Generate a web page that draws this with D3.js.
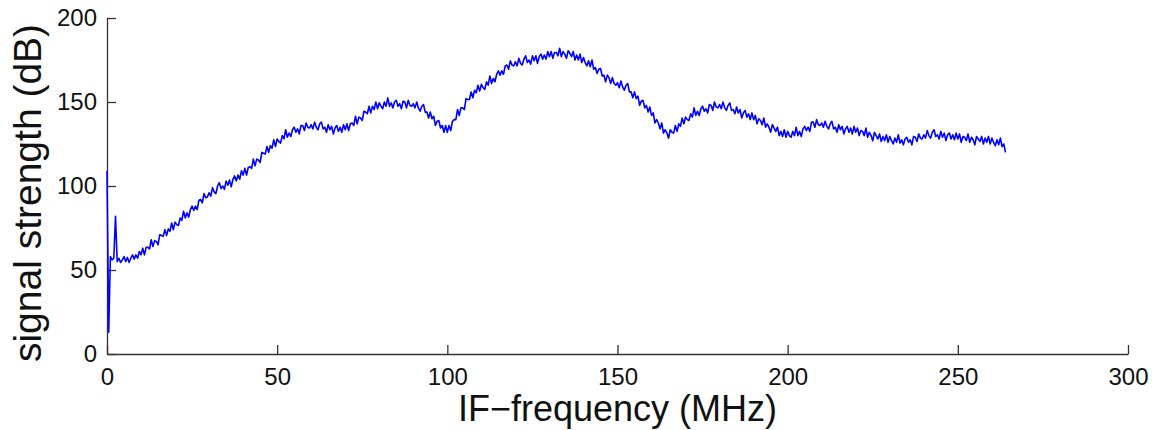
<!DOCTYPE html>
<html>
<head>
<meta charset="utf-8">
<script src="https://cdn.jsdelivr.net/npm/d3@7"></script>
<style>
    body { margin: 0; background: #fff; }
    svg { display: block; font-family: "Liberation Sans", Arial, Helvetica, sans-serif; }
</style>
</head>
<body>
<svg id="spectrum" width="1155" height="430"></svg>
<script>
// Données : un point tous les 0,5 MHz à partir de 0 MHz
const freqStart = 0;
const freqStep = 0.5;
const signalDb = [
    109, 13, 58, 56, 57, 82, 55, 57, 54.5, 56, 58, 55, 57.5, 54.5, 57, 59, 56.5, 59, 57, 61,
    59, 63, 59, 63.5, 63.5, 62.5, 68, 64, 67.5, 67, 65, 71, 70.5, 70, 74, 70.5, 74.5, 73, 78, 74,
    78.5, 77, 76.5, 81, 79.5, 85, 81, 84, 81.5, 86, 88, 85.5, 88, 86, 91.5, 92, 90, 95.5, 93, 93.5,
    96, 94, 99, 96.5, 95.5, 100, 102, 98.5, 100, 98, 103, 100.5, 103.5, 99.5, 104, 106, 103, 106.5, 104, 109,
    106.5, 110.5, 106.5, 111, 111.5, 110.5, 116, 112, 116, 115.5, 114, 120, 119.5, 119, 123.5, 120, 124, 122.5, 127.5, 123.5,
    128, 126.5, 125.5, 130, 128, 133.5, 129, 131.5, 129.5, 133.5, 135, 132, 134, 131, 136, 136, 133, 137.5, 135, 134.5,
    136.5, 134, 138, 135, 133.5, 137, 138, 134, 135, 132, 136.5, 133.5, 135.5, 131, 134.5, 136, 132.5, 135, 132, 136.5,
    133.5, 137, 133, 137, 137.5, 136, 141.5, 137, 141, 140.5, 139, 144.5, 144, 143, 147.5, 143.5, 147.5, 145.5, 150, 146,
    149.5, 147.5, 146, 150, 147.5, 152.5, 147.5, 149.5, 146.5, 150, 151, 147.5, 149, 146, 150.5, 150, 146.5, 151, 148, 147.5,
    149, 146.5, 150, 146.5, 144.5, 147.5, 148.5, 144, 144, 140.5, 144, 140, 141.5, 136, 138.5, 139, 134.5, 136, 132, 136,
    132, 136, 133, 138.5, 139.5, 139.5, 145.5, 142, 146.5, 146.5, 145.5, 152, 151.5, 151.5, 156, 152.5, 157, 155.5, 160, 156.5,
    160.5, 158.5, 157.5, 162, 160, 165.5, 161, 164, 162, 166.5, 168.5, 166, 168.5, 166.5, 171.5, 172, 169.5, 174.5, 172, 171.5,
    174, 171.5, 176, 173, 172, 175.5, 177.5, 173.5, 175, 172.5, 177.5, 174.5, 177.5, 173, 177, 178.5, 175.5, 178, 175.5, 180,
    177, 180, 176, 179.5, 179.5, 177.5, 182, 177, 180, 178.5, 176, 180.5, 179, 177, 180, 175, 178, 175, 178.5, 173.5,
    176.5, 173.5, 171.5, 174.5, 171, 175, 169.5, 170.5, 167, 169.5, 170, 165.5, 166, 162, 166, 164.5, 161, 164.5, 161, 160,
    161.5, 158.5, 162.5, 159, 157, 160, 161, 156, 156, 152.5, 156, 152, 153.5, 148, 150.5, 151, 146.5, 148, 144, 147,
    142, 143.5, 137.5, 139.5, 137.5, 134, 137.5, 131.5, 133.5, 131.5, 128.5, 133.5, 132, 131.5, 136, 132.5, 137, 135.5, 140.5, 137,
    141, 139.5, 139, 143, 141, 146.5, 142, 144.5, 142, 146, 147.5, 144.5, 146, 143.5, 148.5, 148, 145, 150, 147, 146.5,
    148.5, 146, 150, 146.5, 145, 148, 149.5, 145, 145.5, 143, 147, 143.5, 145.5, 140.5, 143.5, 145, 141, 143, 139.5, 143.5,
    139.5, 142, 137, 140, 139, 136.5, 140.5, 135, 137, 135, 132, 136.5, 134.5, 132.5, 135, 130, 132.5, 129.5, 133.5, 129,
    132.5, 130, 129, 132.5, 130, 135, 130, 132.5, 129.5, 134, 135.5, 133, 135, 132.5, 138, 138, 135, 139.5, 136.5, 136,
    137.5, 135, 138.5, 135.5, 134, 137, 138.5, 134, 135, 132, 136.5, 133.5, 135.5, 131, 134, 135.5, 132, 134.5, 131, 135.5,
    132, 134.5, 130, 133, 132.5, 130, 134.5, 129, 132, 130, 127, 132, 130, 128, 131, 126.5, 129.5, 127, 130.5, 126,
    129.5, 127, 125, 128.5, 126, 130.5, 125.5, 127.5, 124.5, 128, 129, 126, 127.5, 124.5, 129.5, 129, 126.5, 131, 128.5, 128,
    130.5, 128.5, 133, 130, 128.5, 132, 133.5, 129.5, 130.5, 128, 132.5, 129, 131.5, 127, 130.5, 131.5, 128, 130.5, 127.5, 131.5,
    128, 131, 126, 129.5, 129, 127, 131, 126, 129, 127.5, 124.5, 129.5, 128, 126.5, 129.5, 125, 128.5, 126, 129.5, 125,
    128.5, 126, 124, 127.5, 124.5, 128.5, 123.5, 125, 120
];
const xTicks = [0, 50, 100, 150, 200, 250, 300];
const yTicks = [0, 50, 100, 150, 200];
const xLabel = 'IF\u2212frequency (MHz)';
const yLabel = 'signal strength (dB)';

// Dessiner le spectre
function renderSpectrum() {
    const svg = d3.select('#spectrum');
    const margin = { top: 18, right: 27, bottom: 76, left: 107 };
    const width = +svg.attr('width') - margin.left - margin.right;
    const height = +svg.attr('height') - margin.top - margin.bottom;

    const points = signalDb.map((v, i) => ({ f: freqStart + i * freqStep, db: v }));

    const xScale = d3.scaleLinear().domain([0, 300]).range([0, width]);
    const yScale = d3.scaleLinear().domain([0, 200]).range([height, 0]);

    const plot = svg.append('g')
        .attr('transform', `translate(${margin.left},${margin.top})`);

    // Axes avec graduations vers l'intérieur (style MATLAB)
    const xAxis = d3.axisBottom(xScale).tickValues(xTicks).tickSizeInner(-9).tickSizeOuter(0).tickPadding(14);
    const yAxis = d3.axisLeft(yScale).tickValues(yTicks).tickSizeInner(-9).tickSizeOuter(0).tickPadding(10);

    const gx = plot.append('g')
        .attr('transform', `translate(0,${height})`)
        .call(xAxis);
    const gy = plot.append('g').call(yAxis);

    [gx, gy].forEach(g => {
        g.select('.domain').attr('stroke', '#333').attr('stroke-width', 1.3);
        g.selectAll('.tick line').attr('stroke', '#333').attr('stroke-width', 1.3);
        g.selectAll('.tick text')
            .attr('fill', '#111')
            .style('font-size', '24px')
            .style('font-family', '"Liberation Sans", Arial, sans-serif');
    });

    // Courbe du signal
    const line = d3.line()
        .x(d => xScale(d.f))
        .y(d => yScale(d.db));

    plot.append('path')
        .datum(points)
        .attr('fill', 'none')
        .attr('stroke', '#0000ff')
        .attr('stroke-width', 1.6)
        .attr('stroke-linejoin', 'round')
        .attr('d', line);

    // Titres des axes
    svg.append('text')
        .attr('x', margin.left + width / 2)
        .attr('y', 421)
        .attr('text-anchor', 'middle')
        .attr('fill', '#111')
        .style('font-size', '36px')
        .text(xLabel);

    svg.append('text')
        .attr('transform', `translate(41,${margin.top + height / 2 + 7}) rotate(-90)`)
        .attr('text-anchor', 'middle')
        .attr('fill', '#111')
        .style('font-size', '39px')
        .text(yLabel);
}

renderSpectrum();
</script>
</body>
</html>
